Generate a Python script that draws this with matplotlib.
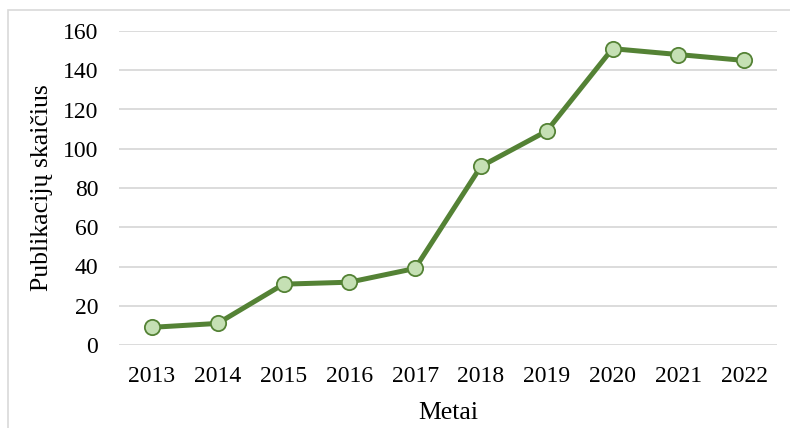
import matplotlib
matplotlib.use("Agg")
import matplotlib.pyplot as plt
from matplotlib.patches import Rectangle

years = ["2013", "2014", "2015", "2016", "2017", "2018", "2019", "2020", "2021", "2022"]
counts = [9, 11, 31, 32, 39, 91, 109, 151, 148, 145]
yticks = [0, 20, 40, 60, 80, 100, 120, 140, 160]

plt.rcParams['font.family'] = ['Liberation Serif', 'DejaVu Serif']

W, H = 790, 428
fig = plt.figure(figsize=(W / 100, H / 100), dpi=100)
ax_left, ax_right, ax_top, ax_bottom = 119, 777, 31, 345
ax = fig.add_axes([ax_left / W, 1 - ax_bottom / H, (ax_right - ax_left) / W, (ax_bottom - ax_top) / H])

# outer chart border (only left and top visible in reference)
fig.patches.append(Rectangle((7.5 / W, -0.1), 1.2, 1 - 10 / H + 0.1, transform=fig.transFigure,
                             fill=False, edgecolor='#D9D9D9', linewidth=1.2))

x = list(range(len(years)))
ax.plot(x, counts, color='#548235', linewidth=3.6, marker='o', markersize=11,
        markerfacecolor='#C5E0B4', markeredgecolor='#548235', markeredgewidth=1.3,
        solid_joinstyle='round', zorder=3)

ax.set_xlim(-0.5, len(years) - 0.5)
ax.set_ylim(0, 160)
ax.set_yticks(yticks)
ax.set_xticks(x)
ax.set_xticklabels(years)
ax.yaxis.grid(True, color='#D9D9D9', linewidth=1.3)
ax.set_axisbelow(True)
for s in ax.spines.values():
    s.set_visible(False)
ax.tick_params(axis='both', length=0, labelsize=17, colors='black')
ax.tick_params(axis='y', pad=15)
ax.tick_params(axis='x', pad=15)
ax.set_xlabel('Metai', fontsize=18.5, labelpad=11)
ax.set_ylabel('Publikacijų skaičius', fontsize=18.5)
ax.yaxis.set_label_coords((53 - ax_left) / (ax_right - ax_left), 0.5)

fig.savefig('out.png', dpi=100)
